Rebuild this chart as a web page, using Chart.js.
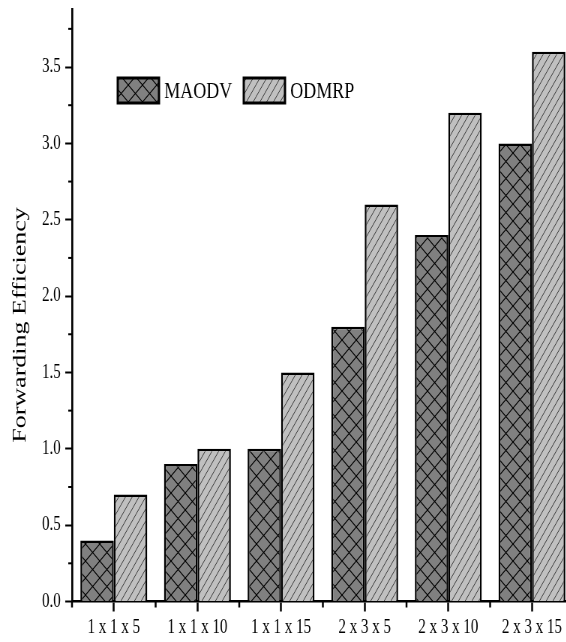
<!DOCTYPE html>
<html>
<head>
<meta charset="utf-8">
<script src="https://cdn.jsdelivr.net/npm/chart.js@4.4.1/dist/chart.umd.min.js"></script>
<style>
  html, body { margin: 0; padding: 0; background: #fff; width: 566px; height: 642px; overflow: hidden; }
  /* the figure is laid out on a wider canvas and narrowed horizontally */
  #wrap { width: 790px; height: 642px; transform: scaleX(0.75); transform-origin: 0 0; }
</style>
</head>
<body>
<div id="wrap"><canvas id="chart"></canvas></div>
<script>
// Group sizes (groups x sources x receivers)
const categories = ['1 x 1 x 5', '1 x 1 x 10', '1 x 1 x 15', '2 x 3 x 5', '2 x 3 x 10', '2 x 3 x 15'];
// Forwarding efficiency per protocol
const maodv = [0.4, 0.9, 1.0, 1.8, 2.4, 3.0];
const odmrp = [0.7, 1.0, 1.5, 2.6, 3.2, 3.6];
// Labelled (major) ticks on the value axis
const majorTicks = [0, 0.5, 1.0, 1.5, 2.0, 2.5, 3.0, 3.5];
const seriesNames = ['MAODV', 'ODMRP'];

const SERIF = '"Liberation Serif", "Times New Roman", serif';

function makeCrossHatch() {
  const w = 19, h = 17;
  const c = document.createElement('canvas');
  c.width = w; c.height = h;
  const g = c.getContext('2d');
  g.fillStyle = '#808080';
  g.fillRect(0, 0, w, h);
  g.strokeStyle = '#000';
  g.lineWidth = 1.1;
  g.beginPath();
  g.moveTo(-w * 0.1, -h * 0.1); g.lineTo(w * 1.1, h * 1.1);
  g.moveTo(w * 1.1, -h * 0.1); g.lineTo(-w * 0.1, h * 1.1);
  g.stroke();
  return g.createPattern(c, 'repeat');
}

function makeStripes() {
  const w = 9, h = 12;
  const c = document.createElement('canvas');
  c.width = w; c.height = h;
  const g = c.getContext('2d');
  g.fillStyle = '#c0c0c0';
  g.fillRect(0, 0, w, h);
  g.strokeStyle = '#3a3a3a';
  g.lineWidth = 1;
  g.beginPath();
  for (const dx of [-w, 0, w]) {
    g.moveTo(dx - 1, h + h / w); g.lineTo(dx + w + 1, -h / w);
  }
  g.stroke();
  return g.createPattern(c, 'repeat');
}

const fills = [makeCrossHatch(), makeStripes()];

// Minor ticks, legend and axis title
const extras = {
  id: 'extras',
  afterDraw(chart) {
    const ctx = chart.ctx;
    const ya = chart.scales.y, xa = chart.scales.x;
    const area = chart.chartArea;
    const step = xa.width / categories.length;
    ctx.save();
    ctx.strokeStyle = '#000';
    // minor ticks on the value axis
    ctx.lineWidth = 2;
    for (let v = 0.25; v < ya.max; v += 0.5) {
      const py = ya.getPixelForValue(v);
      ctx.beginPath();
      ctx.moveTo(area.left - 5, py); ctx.lineTo(area.left, py);
      ctx.stroke();
    }
    // minor ticks between categories
    ctx.lineWidth = 2.5;
    for (let i = 0; i <= categories.length; i++) {
      const px = xa.getPixelForValue(0) - step / 2 + i * step;
      ctx.beginPath();
      ctx.moveTo(px, area.bottom); ctx.lineTo(px, area.bottom + 6);
      ctx.stroke();
    }
    // legend
    const boxes = [157, 325];
    ctx.font = '24px ' + SERIF;
    ctx.textBaseline = 'middle';
    ctx.textAlign = 'left';
    chart.data.datasets.forEach((ds, i) => {
      const bx = boxes[i], by = 78, bw = 55, bh = 25;
      ctx.fillStyle = ds.backgroundColor;
      ctx.fillRect(bx, by, bw, bh);
      ctx.lineWidth = 3;
      ctx.strokeStyle = '#000';
      ctx.strokeRect(bx, by, bw, bh);
      ctx.fillStyle = '#000';
      ctx.fillText(ds.label, bx + bw + 7, by + bh / 2 + 1);
    });
    // value axis title
    ctx.translate(27, 325);
    ctx.rotate(-Math.PI / 2);
    ctx.font = '26px ' + SERIF;
    ctx.textAlign = 'center';
    ctx.textBaseline = 'middle';
    ctx.fillStyle = '#000';
    ctx.fillText('Forwarding Efficiency', 0, 0);
    ctx.restore();
  }
};

new Chart(document.getElementById('chart'), {
  type: 'bar',
  data: {
    labels: categories,
    datasets: [
      { label: seriesNames[0], data: maodv, backgroundColor: fills[0] },
      { label: seriesNames[1], data: odmrp, backgroundColor: fills[1] }
    ]
  },
  options: {
    responsive: true,
    maintainAspectRatio: false,
    devicePixelRatio: 1,
    animation: false,
    layout: { padding: { top: 9, right: 25, left: 0, bottom: 0 } },
    datasets: {
      bar: {
        barPercentage: 1,
        categoryPercentage: 0.8,
        borderColor: '#000',
        borderWidth: 2.5
      }
    },
    plugins: {
      legend: { display: false },
      tooltip: { enabled: false }
    },
    scales: {
      x: {
        grid: {
          offset: false,
          drawOnChartArea: false,
          tickLength: 10,
          tickWidth: 2.5,
          tickColor: '#000'
        },
        border: { display: true, color: '#000', width: 2.5 },
        ticks: { color: '#000', padding: 4, maxRotation: 0, autoSkip: false, font: { family: SERIF, size: 20 } },
        afterFit(s) { s.height = 40.5; s.paddingLeft = 0; s.paddingRight = 0; }
      },
      y: {
        min: 0,
        max: 3.88,
        grid: {
          drawOnChartArea: false,
          tickLength: 9,
          tickWidth: 2,
          tickColor: (c) => majorTicks.includes(c.tick.value) ? '#000' : 'rgba(0,0,0,0)'
        },
        border: { display: true, color: '#000', width: 2.7 },
        ticks: {
          stepSize: 0.25,
          includeBounds: false,
          color: '#000',
          padding: 6,
          font: { family: SERIF, size: 20 },
          callback: (v) => majorTicks.includes(v) ? v.toFixed(1) : ''
        },
        afterFit(s) { s.width = 96; s.paddingTop = 0; s.paddingBottom = 0; }
      }
    }
  },
  plugins: [extras]
});
</script>
</body>
</html>
